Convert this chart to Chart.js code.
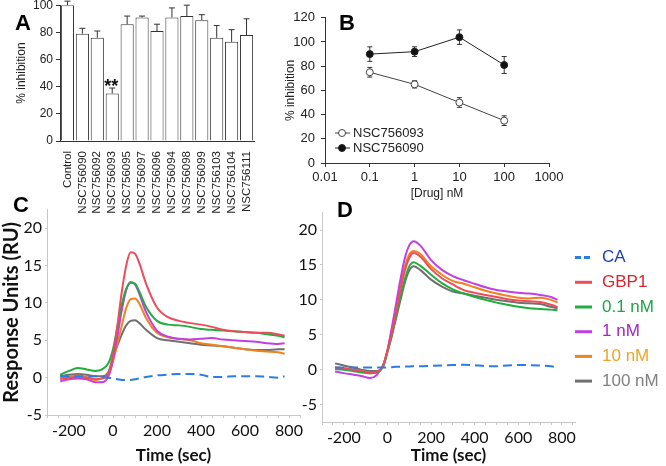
<!DOCTYPE html>
<html>
<head>
<meta charset="utf-8">
<script src="https://cdn.jsdelivr.net/npm/chart.js@4.4.1/dist/chart.umd.min.js"></script>
<style>
  html, body { margin: 0; padding: 0; background: #fff; }
  body { position: relative; width: 666px; height: 466px; overflow: hidden; }
  canvas { position: absolute; }
  .tag { position: absolute; font: bold 22px "Liberation Sans", Arial, sans-serif; line-height: 22px; color: #000; }
</style>
</head>
<body>
<canvas id="chartA" width="300" height="225" style="left:0;top:-5px"></canvas>
<canvas id="chartB" width="300" height="200" style="left:270px;top:4px"></canvas>
<canvas id="chartC" width="310" height="269" style="left:0;top:197px"></canvas>
<canvas id="chartD" width="386" height="266" style="left:280px;top:200px"></canvas>
<div class="tag" style="left:15px;top:12px">A</div>
<div class="tag" style="left:339px;top:12px">B</div>
<div class="tag" style="left:13px;top:194px">C</div>
<div class="tag" style="left:337px;top:199px">D</div>
<script>
// --- Panel A : inhibition par compose ---
const compounds = ['Control', 'NSC756090', 'NSC756092', 'NSC756093', 'NSC756095', 'NSC756097', 'NSC756096',
  'NSC756094', 'NSC756098', 'NSC756099', 'NSC756103', 'NSC756104', 'NSC756111']
const inhibition = [100, 79, 76, 35, 86, 91, 81, 91, 92, 89, 76, 73, 78]
const inhibitionErr = [3, 4, 5, 4, 6, 1, 5, 7, 8, 4, 9, 9, 12]

// --- Panel B : dose-reponse ---
const doseNM = [0.1, 1, 10, 100]
const nsc756093 = [75, 65, 50, 35]
const nsc756093Err = [4, 3, 4, 4]
const nsc756090 = [90, 92, 104, 81]
const nsc756090Err = [6, 4, 6, 7]
const doseTicks = [0.01, 0.1, 1, 10, 100, 1000]

// --- Panels C et D : sensorgrammes SPR ---
const timeSec = [-240, -200, -160, -120, -80, -50, -20, 0, 20, 40, 60, 80, 100, 120, 150, 200,
  250, 300, 350, 400, 450, 500, 550, 600, 650, 700, 750, 780]
const timeTickLabels = [-200, 0, 200, 400, 600, 800]
const ruTicks = [-5, 0, 5, 10, 15, 20]

const caC     = [0.2, 0.2, 0.2, 0.2, 0.2, 0.1, 0.0, -0.1, -0.2, -0.3, -0.3, -0.3, -0.2, -0.1, 0.1, 0.3,
  0.4, 0.5, 0.5, 0.4, 0.1, 0.1, 0.2, 0.2, 0.2, 0.1, 0.0, 0.2]
const gbp1C   = [-0.2, 0.0, 0.1, 0.0, -0.2, -0.1, 0.6, 3.0, 7.0, 11.5, 15.0, 16.8, 16.6, 15.3, 12.6, 9.4,
  8.1, 7.6, 7.3, 7.1, 6.8, 6.4, 6.2, 6.1, 6.0, 6.0, 5.8, 5.6]
const nm01C   = [0.4, 0.9, 1.3, 1.1, 0.9, 1.1, 2.0, 3.8, 6.8, 9.8, 11.9, 12.7, 12.6, 11.5, 9.5, 7.6,
  7.1, 7.0, 6.8, 6.5, 6.4, 6.3, 6.2, 6.1, 6.0, 5.8, 5.6, 5.4]
const nm1C    = [-0.5, -0.2, -0.1, -0.2, -0.6, -0.6, 0.2, 2.4, 5.5, 9.0, 11.7, 12.8, 12.5, 11.2, 8.8, 6.3,
  5.5, 5.2, 5.1, 5.2, 5.3, 5.1, 5.0, 4.9, 4.8, 4.6, 4.5, 4.6]
const nm10C   = [0.0, 0.2, 0.3, 0.1, -0.3, -0.1, 0.4, 2.2, 4.5, 7.0, 9.3, 10.5, 10.6, 9.9, 8.0, 6.0,
  5.4, 5.2, 5.0, 4.6, 4.4, 4.2, 4.0, 3.8, 3.6, 3.5, 3.4, 3.2]
const nm100C  = [0.2, 0.4, 0.5, 0.4, 0.2, 0.2, 0.8, 2.8, 4.3, 5.8, 7.0, 7.6, 7.7, 7.3, 6.4, 5.3,
  5.0, 4.8, 4.6, 4.4, 4.3, 4.2, 4.0, 3.8, 3.7, 3.7, 3.8, 3.8]

const caD     = [0.3, 0.3, 0.3, 0.3, 0.3, 0.3, 0.3, 0.3, 0.35, 0.4, 0.4, 0.45, 0.45, 0.5, 0.5, 0.55,
  0.6, 0.65, 0.7, 0.65, 0.5, 0.5, 0.6, 0.65, 0.65, 0.6, 0.5, 0.3]
const gbp1D   = [0.3, 0.2, 0.0, -0.2, -0.4, -0.3, 0.6, 2.7, 5.2, 8.3, 11.5, 14.2, 16.0, 16.7, 16.2, 14.4,
  13.1, 12.2, 11.4, 11.0, 10.7, 10.4, 10.1, 9.9, 9.8, 9.7, 9.3, 9.0]
const nm01D   = [0.1, 0.0, -0.2, -0.4, -0.5, -0.4, 0.5, 2.6, 5.0, 7.8, 10.5, 13.0, 14.8, 15.4, 14.9, 13.6,
  12.4, 11.5, 10.9, 10.4, 10.0, 9.6, 9.3, 9.0, 8.8, 8.7, 8.6, 8.5]
const nm1D    = [-0.25, -0.5, -0.7, -0.9, -1.2, -0.8, 0.6, 2.8, 6.0, 9.5, 13.0, 16.0, 17.8, 18.4, 17.8, 15.7,
  14.3, 13.4, 12.8, 12.3, 11.8, 11.4, 11.2, 11.0, 10.9, 10.7, 10.4, 10.0]
const nm10D   = [0.3, 0.2, 0.0, -0.2, -0.5, -0.4, 0.6, 2.7, 5.5, 8.8, 12.0, 14.8, 16.5, 17.0, 16.6, 14.8,
  13.6, 12.7, 12.3, 11.8, 11.3, 10.9, 10.6, 10.3, 10.2, 10.3, 10.0, 9.6]
const nm100D  = [0.9, 0.6, 0.3, 0.0, -0.2, -0.2, 0.4, 2.5, 4.8, 7.4, 10.0, 12.5, 14.2, 14.8, 14.3, 12.9,
  11.9, 11.2, 10.9, 10.6, 10.3, 10.0, 9.8, 9.6, 9.5, 9.4, 9.0, 8.8]

const SANS = '"Liberation Sans", Arial, sans-serif'
const LATO = 'Lato, "Open Sans", sans-serif'

// Barres d'erreur dessinees via les echelles du graphique
const errorBars = {
  id: 'errorBars',
  draw(chart, opts) {
    const { ctx } = chart
    const yScale = chart.scales.y
    ctx.save()
    ctx.strokeStyle = opts.color
    ctx.lineWidth = 1
    chart.data.datasets.forEach((ds, i) => {
      if (!ds.errors) return
      const meta = chart.getDatasetMeta(i)
      meta.data.forEach((el, j) => {
        const raw = ds.data[j]
        const v = typeof raw === 'object' ? raw.y : raw
        const e = ds.errors[j]
        const top = yScale.getPixelForValue(v + e)
        const bot = yScale.getPixelForValue(opts.upOnly ? v : v - e)
        ctx.beginPath()
        ctx.moveTo(el.x, bot); ctx.lineTo(el.x, top)
        ctx.moveTo(el.x - opts.cap, top); ctx.lineTo(el.x + opts.cap, top)
        if (!opts.upOnly) { ctx.moveTo(el.x - opts.cap, bot); ctx.lineTo(el.x + opts.cap, bot) }
        ctx.stroke()
      })
    })
    ctx.restore()
  },
  beforeDatasetsDraw(chart, args, opts) { if (!opts.after) this.draw(chart, opts) },
  afterDatasetsDraw(chart, args, opts) { if (opts.after) this.draw(chart, opts) }
}

// Annotation de significativite au-dessus d'une barre
const starMark = {
  id: 'starMark',
  afterDatasetsDraw(chart, args, opts) {
    const el = chart.getDatasetMeta(0).data[opts.index]
    const { ctx } = chart
    ctx.save()
    ctx.font = 'bold 18px ' + SANS
    ctx.fillStyle = '#111'
    ctx.textAlign = 'center'
    ctx.textBaseline = 'alphabetic'
    ctx.fillText(opts.text, el.x - 1, el.y - 1)
    ctx.restore()
  }
}

// Legende a l'interieur du panneau B
const insideLegend = {
  id: 'insideLegend',
  afterDraw(chart, args, opts) {
    const { ctx, chartArea } = chart
    ctx.save()
    ctx.font = '13px ' + SANS
    ctx.textBaseline = 'middle'
    chart.data.datasets.forEach((ds, i) => {
      const x = chartArea.left + 10
      const y = chartArea.bottom - 30 + i * 15
      ctx.strokeStyle = ds.borderColor
      ctx.lineWidth = 1
      ctx.beginPath(); ctx.moveTo(x, y); ctx.lineTo(x + 15, y); ctx.stroke()
      ctx.beginPath(); ctx.arc(x + 7, y, 3.5, 0, Math.PI * 2)
      ctx.fillStyle = ds.pointBackgroundColor; ctx.fill()
      ctx.strokeStyle = ds.pointBorderColor; ctx.stroke()
      ctx.fillStyle = '#222'
      ctx.fillText(ds.label, x + 18, y)
    })
    ctx.restore()
  }
}

// Legende a droite du panneau D
const sideLegend = {
  id: 'sideLegend',
  afterDraw(chart, args, opts) {
    if (!opts.display) return
    const { ctx, chartArea } = chart
    ctx.save()
    ctx.font = '17px ' + SANS
    ctx.textBaseline = 'middle'
    chart.data.datasets.forEach((ds, i) => {
      const x = chartArea.right
      const y = chartArea.top + 45 + i * 24.7
      ctx.strokeStyle = ds.borderColor
      ctx.lineWidth = 3
      ctx.setLineDash(ds.borderDash.length ? [6, 3] : [])
      ctx.beginPath(); ctx.moveTo(x, y); ctx.lineTo(x + 17, y); ctx.stroke()
      ctx.setLineDash([])
      ctx.fillStyle = ds.legendColor
      ctx.fillText(ds.label, x + 27, y)
    })
    ctx.restore()
  }
}

const base = { responsive: false, animation: false, devicePixelRatio: 1 }

new Chart(document.getElementById('chartA'), {
  type: 'bar',
  data: {
    labels: compounds,
    datasets: [{
      data: inhibition, errors: inhibitionErr,
      backgroundColor: '#fff', borderColor: '#333', borderWidth: 1,
      barPercentage: 0.88, categoryPercentage: 1
    }]
  },
  options: {
    ...base,
    layout: { padding: { left: 0, right: 46, top: 10, bottom: 0 } },
    plugins: {
      legend: { display: false }, tooltip: { enabled: false },
      errorBars: { upOnly: true, cap: 3, color: '#333', after: true },
      starMark: { index: 3, text: '**' }
    },
    scales: {
      x: {
        grid: { display: false }, border: { color: '#333' },
        ticks: { minRotation: 90, maxRotation: 90, autoSkip: false, padding: 2, color: '#222', font: { family: SANS, size: 11.5 } },
        afterFit: s => { s.height = 79 }
      },
      y: {
        min: 0, max: 100,
        ticks: { stepSize: 20, padding: 3, color: '#222', font: { family: SANS, size: 12 } },
        grid: { display: true, drawOnChartArea: false, tickLength: 4, color: '#333' },
        border: { color: '#333' },
        title: { display: true, text: '% inhibition', color: '#222', font: { family: SANS, size: 12 }, padding: { top: 14, bottom: 0 } },
        afterFit: s => { s.width = 60 }
      }
    }
  },
  plugins: [errorBars, starMark]
})

const doseSeries = (label, values, errors, fill, line) => ({
  label,
  data: doseNM.map((d, i) => ({ x: d, y: values[i] })),
  errors,
  borderColor: line, borderWidth: 1,
  pointRadius: 3.5, pointBackgroundColor: fill, pointBorderColor: line, pointBorderWidth: 1,
  tension: 0
})

new Chart(document.getElementById('chartB'), {
  type: 'line',
  data: {
    datasets: [
      doseSeries('NSC756093', nsc756093, nsc756093Err, '#fff', '#444'),
      doseSeries('NSC756090', nsc756090, nsc756090Err, '#111', '#222')
    ]
  },
  options: {
    ...base,
    layout: { padding: { left: 0, right: 21, top: 10, bottom: 0 } },
    plugins: {
      legend: { display: false }, tooltip: { enabled: false },
      errorBars: { upOnly: false, cap: 2.5, color: '#333', after: false }
    },
    scales: {
      x: {
        type: 'logarithmic', min: 0.01, max: 1000,
        afterBuildTicks: s => { s.ticks = doseTicks.map(v => ({ value: v })) },
        ticks: { callback: v => String(v), autoSkip: false, maxRotation: 0, padding: 3, color: '#222', font: { family: SANS, size: 13 } },
        grid: { display: true, drawOnChartArea: false, tickLength: 4, color: '#333' },
        border: { color: '#333' },
        title: { display: true, text: '[Drug] nM', color: '#222', font: { family: SANS, size: 12 }, padding: { top: 0, bottom: 3 } },
        afterFit: s => { s.height = 41 }
      },
      y: {
        min: 0, max: 120,
        ticks: { stepSize: 20, padding: 6, color: '#222', font: { family: SANS, size: 13 } },
        grid: { display: true, drawOnChartArea: false, tickLength: 4, color: '#333' },
        border: { color: '#333' },
        title: { display: true, text: '% inhibition', color: '#222', font: { family: SANS, size: 12 }, padding: { top: 13, bottom: 0 } },
        afterFit: s => { s.width = 55 }
      }
    }
  },
  plugins: [errorBars, insideLegend]
})

const sprSeries = (label, values, color, textColor, dash) => ({
  label,
  data: timeSec.map((t, i) => ({ x: t, y: values[i] })),
  borderColor: color, borderWidth: 2, borderDash: dash || [],
  pointRadius: 0, cubicInterpolationMode: 'monotone',
  legendColor: textColor
})

const sprDatasets = (ca, gbp1, nm01, nm1, nm10, nm100) => [
  sprSeries('CA', ca, '#2b7de6', '#1d3fbf', [9, 5]),
  sprSeries('GBP1', gbp1, '#ef4b5b', '#d9222e'),
  sprSeries('0.1 nM', nm01, '#1fae3e', '#1ea548'),
  sprSeries('1 nM', nm1, '#c23fe2', '#a424c6'),
  sprSeries('10 nM', nm10, '#f0821f', '#f0a324'),
  sprSeries('100 nM', nm100, '#707070', '#818181')
]

const sprOptions = (yMin, yMax, xMax, yWidth, xHeight, padRight, yTitle, legend) => ({
  ...base,
  layout: { padding: { left: 0, right: padRight, top: 10, bottom: 0 } },
  plugins: { legend: { display: false }, tooltip: { enabled: false }, sideLegend: { display: legend } },
  scales: {
    x: {
      type: 'linear', min: -300, max: xMax,
      afterBuildTicks: s => {
        const t = []
        for (let v = -300; v <= xMax; v += 50) t.push({ value: v })
        s.ticks = t
      },
      ticks: {
        autoSkip: false, maxRotation: 0, padding: 3, color: '#111',
        font: { family: LATO, size: 16 },
        callback: v => timeTickLabels.includes(v) ? String(v) : ''
      },
      grid: { display: true, drawOnChartArea: false, tickLength: 3, color: '#c8c8c8' },
      border: { color: '#c8c8c8' },
      title: { display: true, text: 'Time (sec)', color: '#111', font: { family: LATO, size: 17, weight: 'bold' }, padding: { top: 0, bottom: 0 } },
      afterFit: s => { s.height = xHeight }
    },
    y: {
      min: yMin, max: yMax,
      afterBuildTicks: s => { s.ticks = ruTicks.map(v => ({ value: v })) },
      ticks: { padding: 3, color: '#111', font: { family: LATO, size: 16 } },
      grid: { display: true, drawOnChartArea: false, tickLength: 2, color: '#c8c8c8' },
      border: { color: '#c8c8c8' },
      title: { display: !!yTitle, text: yTitle, color: '#111', font: { family: LATO, size: 20, weight: 'bold' }, padding: { top: 0, bottom: 0 } },
      afterFit: s => { s.width = yWidth }
    }
  }
})

new Chart(document.getElementById('chartC'), {
  type: 'line',
  data: { datasets: sprDatasets(caC, gbp1C, nm01C, nm1C, nm10C, nm100C) },
  options: sprOptions(-5, 22.5, 850, 47, 51, 10, 'Response Units (RU)', false),
  plugins: [sideLegend]
})

new Chart(document.getElementById('chartD'), {
  type: 'line',
  data: { datasets: sprDatasets(caD, gbp1D, nm01D, nm1D, nm10D, nm100D) },
  options: sprOptions(-7.5, 22.5, 860, 42, 44, 91, '', true),
  plugins: [sideLegend]
})
</script>
</body>
</html>
